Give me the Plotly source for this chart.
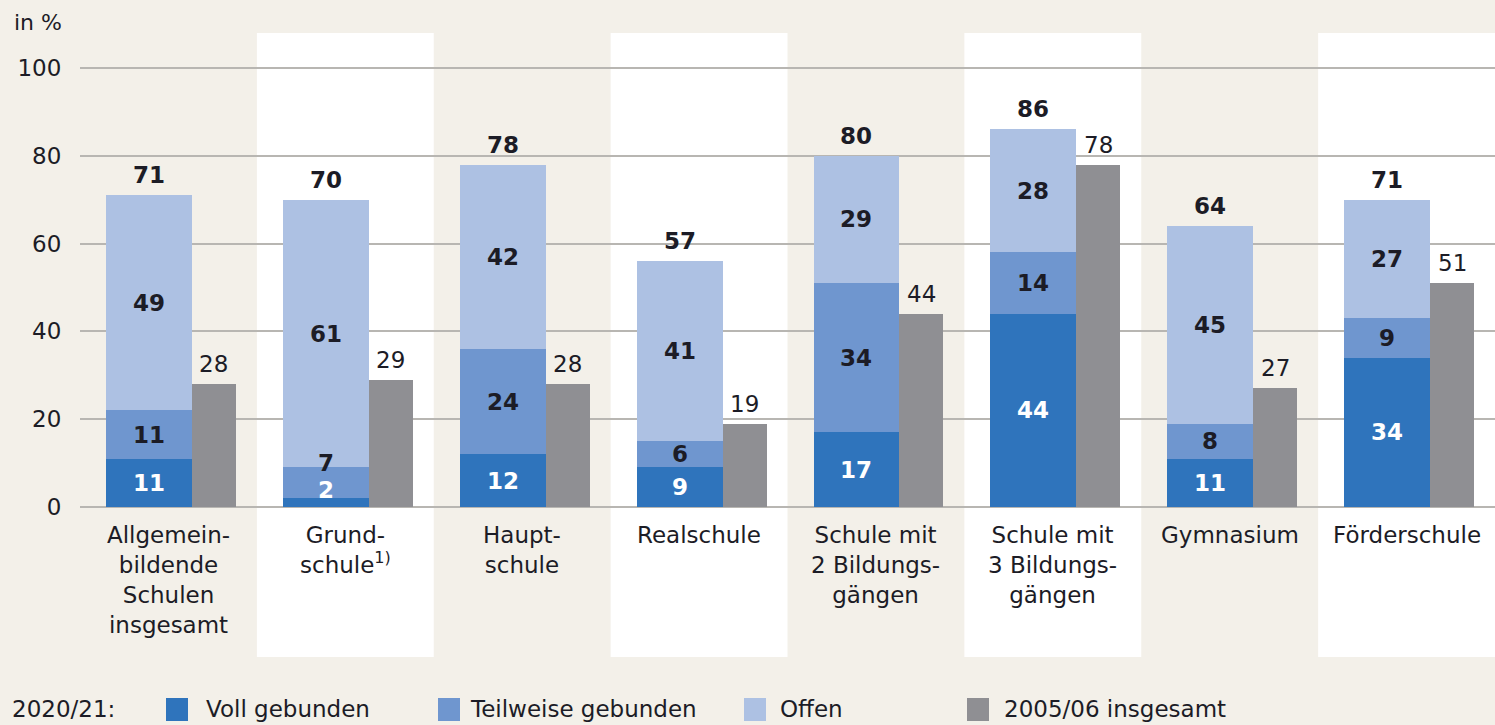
import plotly.graph_objects as go

categories = ["Allgemein-<br>bildende<br>Schulen<br>insgesamt", "Grund-<br>schule<sup>1)</sup>", "Haupt-<br>schule",
              "Realschule", "Schule mit<br>2 Bildungs-<br>gängen", "Schule mit<br>3 Bildungs-<br>gängen",
              "Gymnasium", "Förderschule"]
voll = [11, 2, 12, 9, 17, 44, 11, 34]
teilweise = [11, 7, 24, 6, 34, 14, 8, 9]
offen = [49, 61, 42, 41, 29, 28, 45, 27]
totals_2020 = [71, 70, 78, 57, 80, 86, 64, 71]
insgesamt_2005 = [28, 29, 28, 19, 44, 78, 27, 51]
y_ticks = [0, 20, 40, 60, 80, 100]

FONT = "DejaVu Sans, Open Sans, sans-serif"
FS = 23
BG = "#f3f0e9"
C_VOLL = "#2f74bc"
C_TEIL = "#6f96cf"
C_OFFEN = "#adc1e3"
C_GRAY = "#8f8f93"
TXT = "#1c1c26"

W, H = 1495, 725
L, R, T, B = 80, 1495, 33, 657

def px_x(p):
    return (p - L) / (R - L)

def px_y(p):
    return (B - p) / (B - T)

n = len(categories)
xs = list(range(n))
off_stack = -0.110
w_stack = 0.486
off_gray = 0.257
w_gray = 0.249

fig = go.Figure()
fig.add_bar(x=[i + off_stack for i in xs], y=voll, width=w_stack, marker_color=C_VOLL, name="Voll gebunden")
fig.add_bar(x=[i + off_stack for i in xs], y=teilweise, width=w_stack, marker_color=C_TEIL, name="Teilweise gebunden")
fig.add_bar(x=[i + off_stack for i in xs], y=offen, width=w_stack, marker_color=C_OFFEN, name="Offen")
fig.add_bar(x=[i + off_gray for i in xs], y=insgesamt_2005, width=w_gray, marker_color=C_GRAY, name="2005/06 insgesamt")
fig.update_traces(marker_line_width=0, hoverinfo="skip")

shapes = []
for i in range(1, n, 2):
    shapes.append(dict(type="rect", xref="x", yref="paper", x0=i - 0.5, x1=i + 0.5, y0=0, y1=1,
                       fillcolor="white", line_width=0, layer="below"))

ann = []
val_font = dict(family=FONT, size=FS, color=TXT)
small_shift = {1: (13, 20)}
for i in xs:
    xv = i + off_stack
    s_v, s_t = small_shift.get(i, (0, 0))
    ann.append(dict(x=xv, y=voll[i] / 2, text=f"<b>{voll[i]}</b>", showarrow=False, yshift=s_v,
                    font=dict(family=FONT, size=FS, color="white")))
    ann.append(dict(x=xv, y=voll[i] + teilweise[i] / 2, text=f"<b>{teilweise[i]}</b>", showarrow=False, yshift=s_t,
                    font=val_font))
    ann.append(dict(x=xv, y=voll[i] + teilweise[i] + offen[i] / 2, text=f"<b>{offen[i]}</b>", showarrow=False,
                    font=val_font))
    ann.append(dict(x=xv, y=voll[i] + teilweise[i] + offen[i], text=f"<b>{totals_2020[i]}</b>", showarrow=False,
                    yanchor="bottom", yshift=5, font=val_font))
    ann.append(dict(x=i + off_gray, y=insgesamt_2005[i], text=f"{insgesamt_2005[i]}", showarrow=False,
                    yanchor="bottom", yshift=5, font=val_font))
    ann.append(dict(x=i, y=0, text=categories[i], showarrow=False, yanchor="top", yshift=-13,
                    font=dict(family=FONT, size=FS, color=TXT), align="center"))

ann.append(dict(xref="paper", yref="paper", x=px_x(12), y=px_y(8), xanchor="left", yanchor="top",
                text="in %", showarrow=False, font=dict(family=FONT, size=22, color=TXT)))

leg_font = dict(family=FONT, size=FS, color=TXT)
ly = 709
ann.append(dict(xref="paper", yref="paper", x=px_x(10), y=px_y(ly), xanchor="left", yanchor="middle",
                text="2020/21:", showarrow=False, font=leg_font))
legend_items = [("Voll gebunden", C_VOLL, 166, 204), ("Teilweise gebunden", C_TEIL, 438, 468),
                ("Offen", C_OFFEN, 744, 778), ("2005/06 insgesamt", C_GRAY, 967, 1002)]
for label, col, sx, tx in legend_items:
    shapes.append(dict(type="rect", xref="paper", yref="paper", x0=px_x(sx), x1=px_x(sx + 22),
                       y0=px_y(721), y1=px_y(698), fillcolor=col, line_width=0))
    ann.append(dict(xref="paper", yref="paper", x=px_x(tx), y=px_y(ly), xanchor="left", yanchor="middle",
                    text=label, showarrow=False, font=leg_font))

ymin = -(B - 507) / ((507 - 68) / 100)
ymax = (507 - T) / ((507 - 68) / 100)

fig.update_layout(
    width=W, height=H,
    margin=dict(l=L, r=W - R, t=T, b=H - B, pad=0),
    paper_bgcolor=BG, plot_bgcolor=BG,
    barmode="stack", bargap=0,
    shapes=shapes, annotations=ann,
    showlegend=False,
    xaxis=dict(range=[-0.5, n - 0.5], showticklabels=False, showgrid=False, zeroline=False, fixedrange=True),
    yaxis=dict(range=[ymin, ymax], tickvals=y_ticks, showgrid=True, gridcolor="#b8b6b2", gridwidth=1.5,
               zeroline=False, ticks="outside", ticklen=13, tickcolor="rgba(0,0,0,0)",
               tickfont=dict(family=FONT, size=FS, color=TXT), fixedrange=True),
)

fig.write_html("out.html", config={"displayModeBar": False},
               post_script="document.body.style.margin='0';document.body.style.overflow='hidden';")
